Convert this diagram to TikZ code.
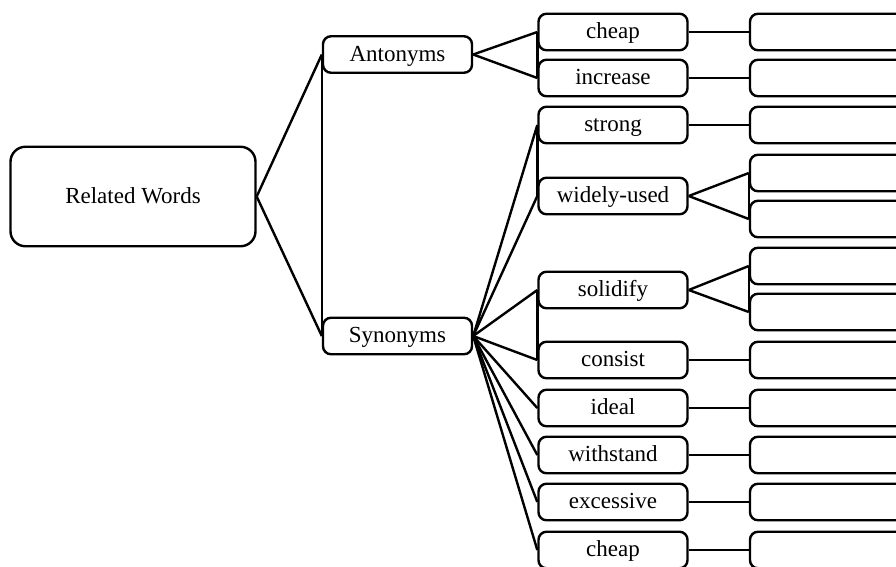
\documentclass[tikz,border=0pt]{standalone}
\usepackage{fontspec}
\setmainfont{Liberation Serif}
\tikzset{
  box/.style={draw, line width=2.4pt, rounded corners=8pt, inner sep=0pt,
    minimum width=149pt, minimum height=36.5pt,
    text height=16.5pt, text depth=3pt,
    font=\fontsize{23}{28}\selectfont},
  rootbox/.style={box, rounded corners=15pt, minimum width=245pt, minimum height=99.5pt},
  leafbox/.style={box, minimum width=250pt},
  link/.style={line width=2.4pt}
}
\begin{document}
\begin{tikzpicture}[x=1pt,y=-1pt]
\fill[white] (0,0) rectangle (896,566);
\clip (0,0) rectangle (896,566);
% root and first level
\node[rootbox] (root) at (133,196.5) {Related Words};
\node[box] (ant) at (397.5,54.5) {Antonyms};
\node[box] (syn) at (397.5,336) {Synonyms};
% second level
\node[box] (acheap) at (613,32) {cheap};
\node[box] (aincr) at (613,78) {increase};
\node[box] (sstrong) at (613,125) {strong};
\node[box] (swide) at (613,196) {widely-used};
\node[box] (ssolid) at (613,290) {solidify};
\node[box] (sconsist) at (613,360) {consist};
\node[box] (sideal) at (613,408) {ideal};
\node[box] (swith) at (613,455) {withstand};
\node[box] (sexc) at (613,502) {excessive};
\node[box] (scheap) at (613,550) {cheap};
% third level
\node[leafbox] (l1) at (875,32) {};
\node[leafbox] (l2) at (875,78) {};
\node[leafbox] (l3) at (875,125) {};
\node[leafbox] (l4) at (875,173) {};
\node[leafbox] (l5) at (875,219) {};
\node[leafbox] (l6) at (875,266) {};
\node[leafbox] (l7) at (875,312) {};
\node[leafbox] (l8) at (875,360) {};
\node[leafbox] (l9) at (875,408) {};
\node[leafbox] (l10) at (875,455) {};
\node[leafbox] (l11) at (875,502) {};
\node[leafbox] (l12) at (875,550) {};
% connectors
\draw[link] (root.east) -- (ant.west);
\draw[link] (root.east) -- (syn.west);
\draw[link] (ant.west) -- (syn.west);
\draw[link] (ant.east) -- (acheap.west);
\draw[link] (ant.east) -- (aincr.west);
\draw[link] (acheap.west) -- (aincr.west);
\foreach \c in {sstrong,swide,ssolid,sconsist,sideal,swith,sexc,scheap}
  \draw[link] (syn.east) -- (\c.west);
\draw[link] (sstrong.west) -- (swide.west);
\draw[link] (ssolid.west) -- (sconsist.west);
\draw[link] (acheap.east) -- (l1.west);
\draw[link] (aincr.east) -- (l2.west);
\draw[link] (sstrong.east) -- (l3.west);
\draw[link] (swide.east) -- (l4.west);
\draw[link] (swide.east) -- (l5.west);
\draw[link] (l4.west) -- (l5.west);
\draw[link] (ssolid.east) -- (l6.west);
\draw[link] (ssolid.east) -- (l7.west);
\draw[link] (l6.west) -- (l7.west);
\draw[link] (sconsist.east) -- (l8.west);
\draw[link] (sideal.east) -- (l9.west);
\draw[link] (swith.east) -- (l10.west);
\draw[link] (sexc.east) -- (l11.west);
\draw[link] (scheap.east) -- (l12.west);
\end{tikzpicture}
\end{document}
